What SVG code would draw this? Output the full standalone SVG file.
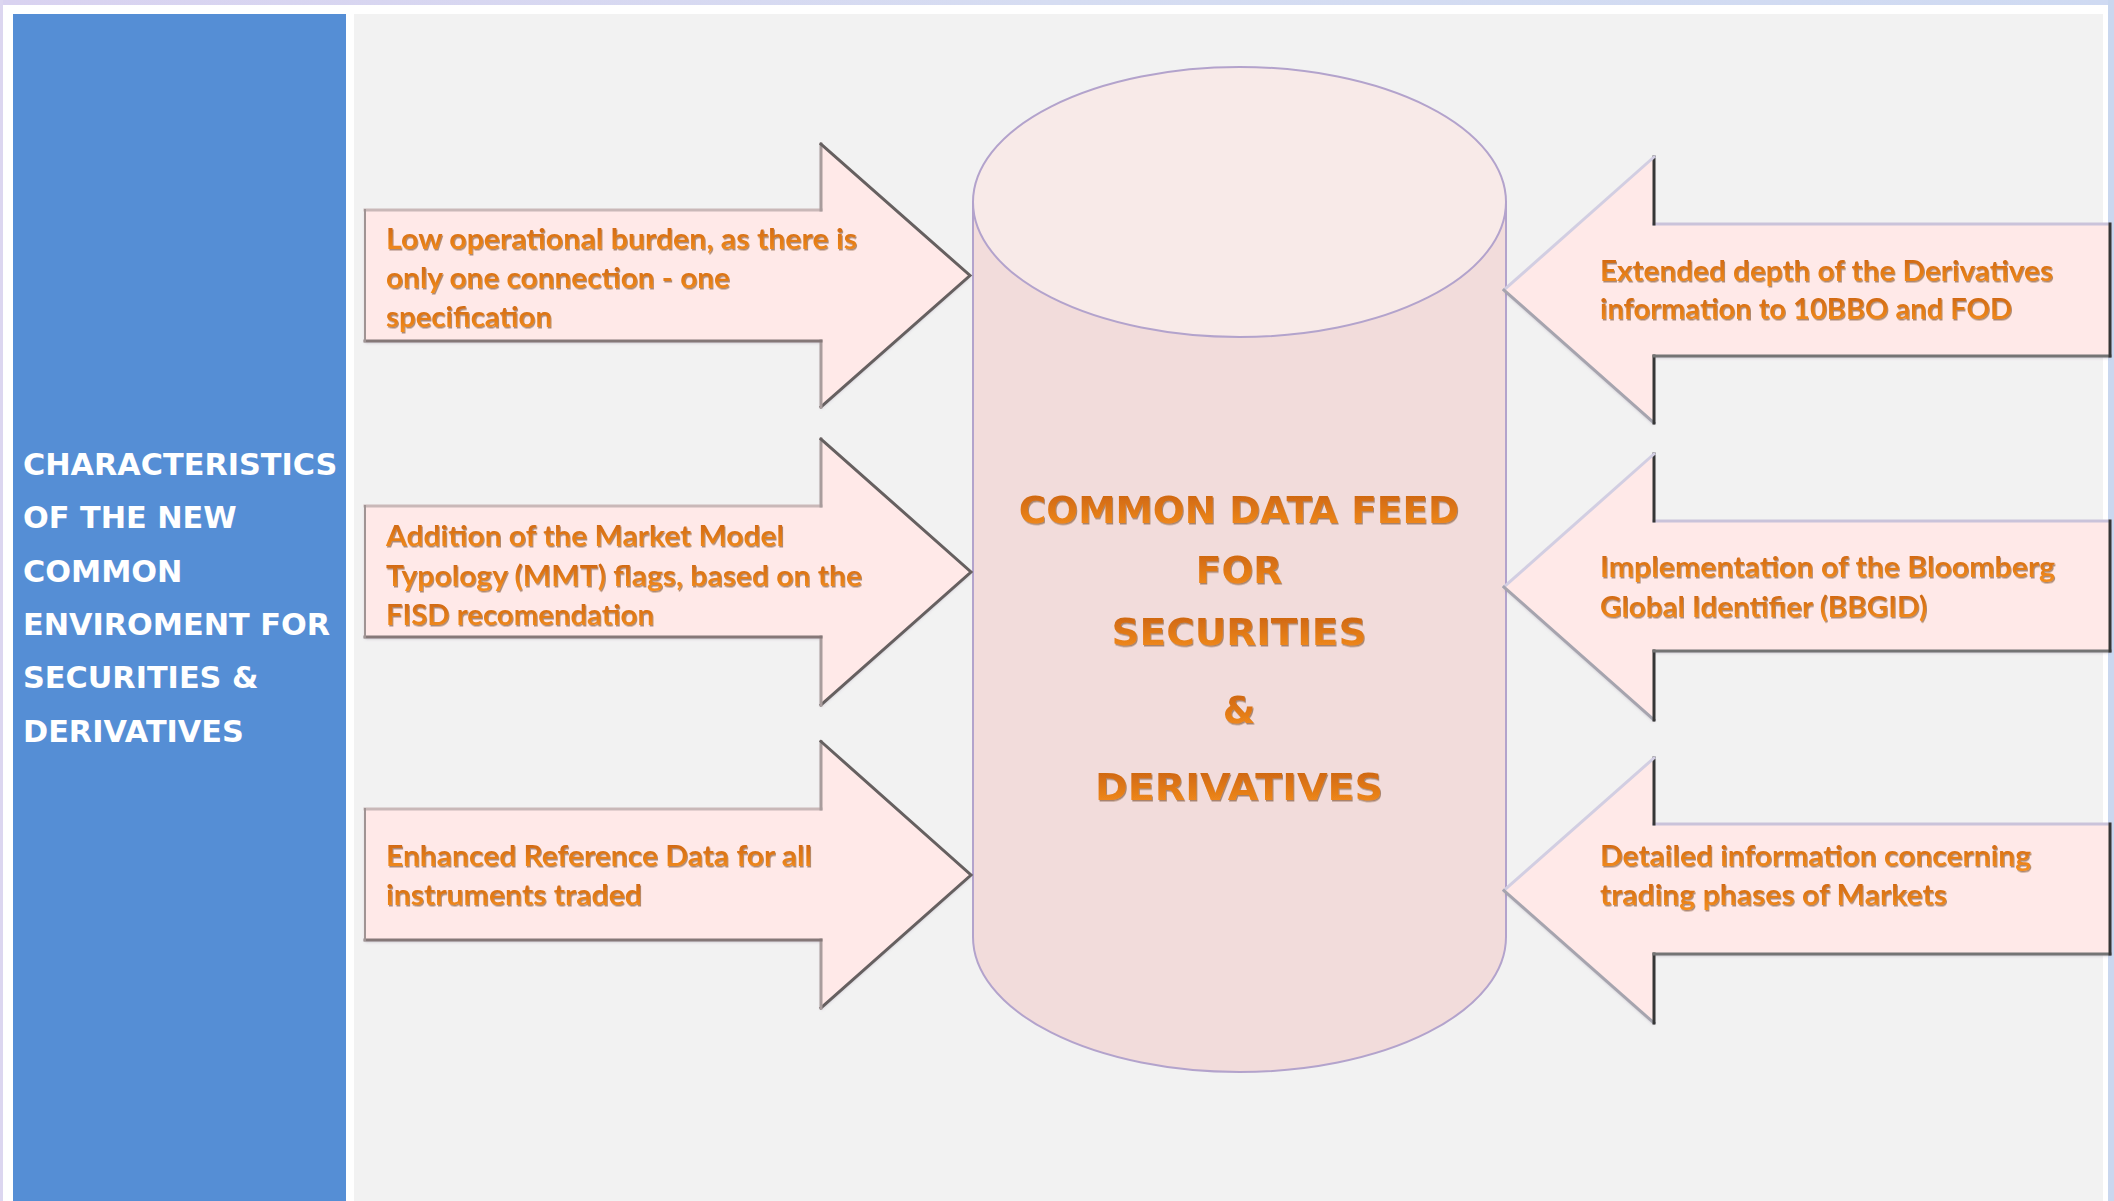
<svg xmlns="http://www.w3.org/2000/svg" width="2114" height="1201" viewBox="0 0 2114 1201">
<defs>
<linearGradient id="og" x1="0" y1="0" x2="0" y2="1">
<stop offset="0" stop-color="#C8600E"/>
<stop offset="1" stop-color="#F7901E"/>
</linearGradient>
<linearGradient id="topband" x1="0" y1="0" x2="1" y2="0">
<stop offset="0" stop-color="#D9D2F0"/>
<stop offset="0.5" stop-color="#D6DDF2"/>
<stop offset="1" stop-color="#CFDAF2"/>
</linearGradient>
<filter id="ts" x="-5%" y="-20%" width="110%" height="150%">
<feDropShadow dx="1" dy="1.5" stdDeviation="0.6" flood-color="#6b3a10" flood-opacity="0.55"/>
</filter>
<filter id="as" x="-5%" y="-5%" width="110%" height="115%">
<feDropShadow dx="0" dy="2" stdDeviation="1.5" flood-color="#7a6a8a" flood-opacity="0.35"/>
</filter>
</defs>
<style>
.lbl{font-family:Lato,"Open Sans","DejaVu Sans",sans-serif;font-weight:bold;font-size:28px;fill:url(#og);filter:url(#ts)}
.big{font-family:"DejaVu Sans",Verdana,sans-serif;font-weight:bold;font-size:37.5px;fill:url(#og);filter:url(#ts);text-anchor:middle}
.side{font-family:"DejaVu Sans",Verdana,sans-serif;font-weight:bold;font-size:30.3px;fill:#FFFFFF}
.afill{fill:#FFE9E8;filter:url(#as)}
.e{fill:none;stroke-width:3;stroke-linecap:square}
.lt{stroke:#C9B8B8}
.lv{stroke:#A99C9C}
.ld{stroke:#666060}
.lb{stroke:#857878}
.ll{stroke:#A09494;stroke-width:2}
.rt{stroke:#CAC3DA}
.rv{stroke:#363636}
.rdu{stroke:#D2CEE2}
.rdl{stroke:#A6A4AE}
.rb{stroke:#747474}
.cyl{fill:#F2DCDB;stroke:#B3A3CC;stroke-width:2}
.cyltop{fill:#F8EAE8;stroke:#B3A3CC;stroke-width:2}
</style>

<g id="background">
<rect x="0" y="0" width="2114" height="1201" fill="#FFFFFF"/>
<rect x="0" y="0" width="2114" height="5" fill="url(#topband)"/>
<rect x="0" y="0" width="3" height="1201" fill="#DCD6F0"/>
<rect x="2108" y="0" width="6" height="1201" fill="#C9D7EF"/>
<rect x="354" y="14" width="1749" height="1187" fill="#F2F2F2"/>
</g>

<g id="side-panel">
<rect x="13" y="14" width="333" height="1187" fill="#558ED5"/>
<text class="side" x="23" y="475">CHARACTERISTICS</text>
<text class="side" x="23" y="528">OF THE NEW</text>
<text class="side" x="23" y="582">COMMON</text>
<text class="side" x="23" y="635">ENVIROMENT FOR</text>
<text class="side" x="23" y="688">SECURITIES &amp;</text>
<text class="side" x="23" y="742">DERIVATIVES</text>
</g>

<g id="cylinder">
<path class="cyl" d="M973,202 L973,937 A266.5,135 0 0 0 1506,937 L1506,202 Z"/>
<ellipse class="cyltop" cx="1239.5" cy="202" rx="266.5" ry="135"/>
<text class="big" x="1239" y="523">COMMON DATA FEED</text>
<text class="big" x="1239" y="583">FOR</text>
<text class="big" x="1239" y="645" textLength="255" lengthAdjust="spacingAndGlyphs">SECURITIES</text>
<text class="big" x="1239" y="723">&amp;</text>
<text class="big" x="1239" y="800" textLength="288" lengthAdjust="spacingAndGlyphs">DERIVATIVES</text>
</g>

<g id="arrow-left-1">
<polygon class="afill" points="365,210 821,210 821,144 970,275.5 821,407 821,341 365,341"/>
<path class="e lt" d="M365,210 L821,210"/>
<path class="e lv" d="M821,210 L821,144"/>
<path class="e ld" d="M821,144 L970,275.5 L821,407"/>
<path class="e lv" d="M821,407 L821,341"/>
<path class="e lb" d="M821,341 L365,341"/>
<path class="e ll" d="M365,341 L365,210"/>
<text class="lbl" x="386" y="249" textLength="471" lengthAdjust="spacingAndGlyphs">Low operational burden, as there is</text>
<text class="lbl" x="386" y="288" textLength="344" lengthAdjust="spacingAndGlyphs">only one connection - one</text>
<text class="lbl" x="386" y="327" textLength="166" lengthAdjust="spacingAndGlyphs">specification</text>
</g>

<g id="arrow-left-2">
<polygon class="afill" points="365,506 821,506 821,439 971,572 821,705 821,637 365,637"/>
<path class="e lt" d="M365,506 L821,506"/>
<path class="e lv" d="M821,506 L821,439"/>
<path class="e ld" d="M821,439 L971,572 L821,705"/>
<path class="e lv" d="M821,705 L821,637"/>
<path class="e lb" d="M821,637 L365,637"/>
<path class="e ll" d="M365,637 L365,506"/>
<text class="lbl" x="386" y="546" textLength="398" lengthAdjust="spacingAndGlyphs">Addition of the Market Model</text>
<text class="lbl" x="386" y="586" textLength="476" lengthAdjust="spacingAndGlyphs">Typology (MMT) flags, based on the</text>
<text class="lbl" x="386" y="625" textLength="268" lengthAdjust="spacingAndGlyphs">FISD recomendation</text>
</g>

<g id="arrow-left-3">
<polygon class="afill" points="365,809 821,809 821,741.5 971,875 821,1008 821,940 365,940"/>
<path class="e lt" d="M365,809 L821,809"/>
<path class="e lv" d="M821,809 L821,741.5"/>
<path class="e ld" d="M821,741.5 L971,875 L821,1008"/>
<path class="e lv" d="M821,1008 L821,940"/>
<path class="e lb" d="M821,940 L365,940"/>
<path class="e ll" d="M365,940 L365,809"/>
<text class="lbl" x="386" y="866" textLength="426" lengthAdjust="spacingAndGlyphs">Enhanced Reference Data for all</text>
<text class="lbl" x="386" y="905" textLength="256" lengthAdjust="spacingAndGlyphs">instruments traded</text>
</g>

<g id="arrow-right-1">
<polygon class="afill" points="2110,224 1654,224 1654,157 1504,290 1654,423 1654,356 2110,356"/>
<path class="e rt" d="M2110,224 L1654,224"/>
<path class="e rv" d="M1654,224 L1654,157"/>
<path class="e rdu" d="M1654,157 L1504,290"/>
<path class="e rdl" d="M1504,290 L1654,423"/>
<path class="e rv" d="M1654,423 L1654,356"/>
<path class="e rb" d="M1654,356 L2110,356"/>
<path class="e rv" d="M2110,356 L2110,224"/>
<text class="lbl" x="1600" y="281" textLength="453" lengthAdjust="spacingAndGlyphs">Extended depth of the Derivatives</text>
<text class="lbl" x="1600" y="319" textLength="412" lengthAdjust="spacingAndGlyphs">information to 10BBO and FOD</text>
</g>

<g id="arrow-right-2">
<polygon class="afill" points="2110,521 1654,521 1654,454 1504,587 1654,720 1654,651 2110,651"/>
<path class="e rt" d="M2110,521 L1654,521"/>
<path class="e rv" d="M1654,521 L1654,454"/>
<path class="e rdu" d="M1654,454 L1504,587"/>
<path class="e rdl" d="M1504,587 L1654,720"/>
<path class="e rv" d="M1654,720 L1654,651"/>
<path class="e rb" d="M1654,651 L2110,651"/>
<path class="e rv" d="M2110,651 L2110,521"/>
<text class="lbl" x="1600" y="577" textLength="455" lengthAdjust="spacingAndGlyphs">Implementation of the Bloomberg</text>
<text class="lbl" x="1600" y="617" textLength="327" lengthAdjust="spacingAndGlyphs">Global Identifier (BBGID)</text>
</g>

<g id="arrow-right-3">
<polygon class="afill" points="2110,824 1654,824 1654,758 1504,890.5 1654,1023 1654,954 2110,954"/>
<path class="e rt" d="M2110,824 L1654,824"/>
<path class="e rv" d="M1654,824 L1654,758"/>
<path class="e rdu" d="M1654,758 L1504,890.5"/>
<path class="e rdl" d="M1504,890.5 L1654,1023"/>
<path class="e rv" d="M1654,1023 L1654,954"/>
<path class="e rb" d="M1654,954 L2110,954"/>
<path class="e rv" d="M2110,954 L2110,824"/>
<text class="lbl" x="1600" y="865.5" textLength="431" lengthAdjust="spacingAndGlyphs">Detailed information concerning</text>
<text class="lbl" x="1600" y="905" textLength="347" lengthAdjust="spacingAndGlyphs">trading phases of Markets</text>
</g>

<g id="connectors"/>
</svg>
